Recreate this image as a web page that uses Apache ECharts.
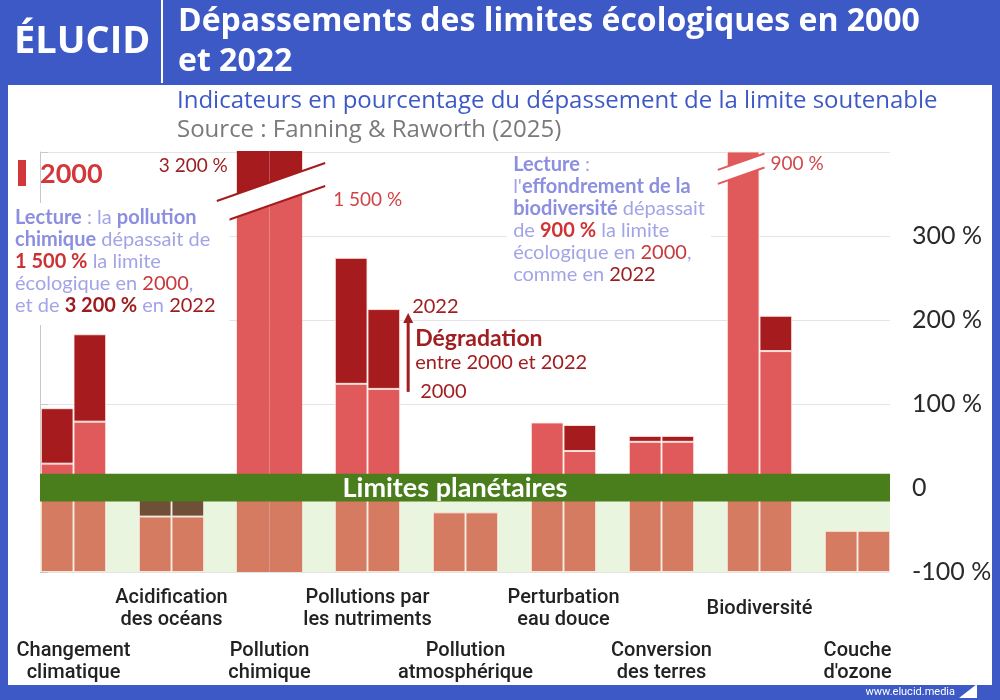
<!DOCTYPE html>
<html>
<head>
<meta charset="utf-8">
<title>Dépassements des limites écologiques en 2000 et 2022</title>
<script src="https://cdn.jsdelivr.net/npm/echarts@6/dist/echarts.min.js"></script>
<style>
  html, body { margin: 0; padding: 0; background: #fff; }
  #chart { width: 1000px; height: 700px; }
</style>
</head>
<body>
<div id="chart"></div>
<script>
// domaines (9) : deux indicateurs par domaine, valeurs en % de dépassement de la limite
var categories = ['Changement\nclimatique', 'Acidification\ndes océans', 'Pollution\nchimique',
  'Pollutions par\nles nutriments', 'Pollution\natmosphérique', 'Perturbation\neau douce',
  'Conversion\ndes terres', 'Biodiversité', "Couche\nd'ozone"];
var indA2000 = [29, -34, 1500, 124, -29, 78, 55, 900, -51];
var indA2022 = [95, -12, 3200, 274, -29, 78, 62, 900, -51];
// pollution chimique : un seul indicateur, répété pour occuper toute la largeur
var indB2000 = [79, -34, 1500, 118, -29, 44, 55, 163, -51];
var indB2022 = [183, -12, 3200, 213, -29, 75, 62, 205, -51];
var singleBar = ['Pollution\nchimique'];
var yTicks = [-100, 0, 100, 200, 300];
var boundaryBand = [-16, 17];   // bande "Limites planétaires"

var LIGHT = '#e05a5b', DARK = '#a51b1e', BASE = '#d47b62', GAIN = '#6f4f37';
var BLUE = '#3d59c6';
var OFF = 100;          // les barres partent de -100 % : on empile depuis ce plancher
var Y_MAX = 400, BREAK_AT = 350, SLOPE = 0.35;

function fmt(v) {
  return String(v).replace(/\B(?=(\d{3})+(?!\d))/g, ' ') + ' %';
}

// découpe d'une barre : sous la limite / hausse sous la limite / 2000 / hausse jusqu'en 2022
function segments(a, b) {
  var top = Y_MAX + 30;
  var lightTop = a > Y_MAX ? (b > a ? BREAK_AT : top) : a;
  var darkTop = b > Y_MAX ? top : b;
  return {
    base: Math.min(a, 0) + OFF,
    gain: a < 0 && b > a ? Math.min(b, 0) - a : null,
    light: a > 0 ? lightTop : null,
    dark: b > a && b > 0 ? darkTop - Math.max(lightTop, 0) : null
  };
}

function barSeries(name, y2000, y2022) {
  var parts = y2000.map(function (a, i) { return segments(a, y2022[i]); });
  var kinds = [['base', BASE], ['gain', GAIN], ['light', LIGHT], ['dark', DARK]];
  return kinds.map(function (k) {
    return {
      name: name + '-' + k[0],
      type: 'bar',
      xAxisIndex: 1,
      yAxisIndex: 1,
      stack: name,
      barWidth: '33.33%',
      barGap: 0,
      z: 2,
      itemStyle: { color: k[1], borderColor: 'rgba(255,236,228,0.85)', borderWidth: 1 },
      data: parts.map(function (p, i) {
        var v = p[k[0]];
        if (v === null) return null;
        if (singleBar.indexOf(categories[i]) >= 0) return { value: v, itemStyle: { borderColor: k[1], borderWidth: 2 } };
        return v;
      })
    };
  });
}

// coupures d'axe sur les barres hors échelle
var breakMarks = [
  { cat: 2, level: BREAK_AT, bars: [-1, 1], gap: 11.5, ext: [20, 23], color: DARK },
  { cat: 7, level: 381, bars: [-1, 0], gap: 7, ext: [9, 5], color: LIGHT }
];

var textFont = 'Lato';
var headFont = 'Open Sans';

var chart = echarts.init(document.getElementById('chart'));

var option = {
  backgroundColor: '#fff',
  animation: false,
  title: [
    {
      text: 'Dépassements des limites écologiques en 2000\net 2022',
      left: 178, top: 2, padding: 0,
      textStyle: { color: '#fff', fontSize: 32, fontWeight: 'bold', fontFamily: headFont, lineHeight: 40 }
    },
    {
      text: 'Indicateurs en pourcentage du dépassement de la limite soutenable',
      subtext: 'Source : Fanning & Raworth (2025)',
      left: 177, top: 87, padding: 0, itemGap: 1,
      textStyle: { color: BLUE, fontSize: 24, fontWeight: 'normal', fontFamily: headFont, lineHeight: 28 },
      subtextStyle: { color: '#7a7a7a', fontSize: 24, fontFamily: headFont, lineHeight: 28 }
    }
  ],
  grid: [
    { left: 40, right: 110, top: 152, bottom: 128 },
    { left: 24.5, right: 93.5, top: 152, bottom: 128 }
  ],
  xAxis: [
    { type: 'value', gridIndex: 0, min: 0, max: 1, show: false },
    {
      type: 'category', gridIndex: 1, data: categories,
      axisLine: { show: false }, axisTick: { show: false },
      axisLabel: {
        interval: 0, margin: 15,
        formatter: function (v, i) {
          var lines = v.split('\n');
          var txt = lines.length > 1
            ? lines.map(function (s) { return '{t|' + s + '}'; }).join('\n')
            : '{one|' + v + '}';
          return i % 2 === 0 ? '{sp| }\n' + txt : txt;
        },
        rich: {
          t: { fontSize: 20, lineHeight: 22, fontFamily: 'Roboto', fontWeight: 500, color: '#222' },
          one: { fontSize: 20, lineHeight: 44, fontFamily: 'Roboto', fontWeight: 500, color: '#222' },
          sp: { fontSize: 8, lineHeight: 53 }
        }
      }
    }
  ],
  yAxis: [
    {
      type: 'value', gridIndex: 0, position: 'right',
      min: 0, max: Y_MAX + OFF, interval: 100,
      axisLine: { show: true, lineStyle: { color: '#c8c8c8' } },
      axisTick: { show: true, length: 8, lineStyle: { color: '#c8c8c8' } },
      splitLine: { lineStyle: { color: '#e4e4e4' } },
      axisLabel: {
        margin: 22, fontSize: 25, fontFamily: textFont, color: '#2a2a2a',
        formatter: function (v) {
          var p = v - OFF;
          if (yTicks.indexOf(p) < 0) return '';
          return p === 0 ? '0' : p + ' %';
        }
      }
    },
    { type: 'value', gridIndex: 1, min: 0, max: Y_MAX + OFF, show: false }
  ],
  series: [
    {
      // zone sûre sous la limite
      type: 'custom', xAxisIndex: 0, yAxisIndex: 0, z: 1, silent: true,
      data: [[0, 0]],
      renderItem: function (params, api) {
        var cs = params.coordSys;
        var y1 = api.coord([0, OFF])[1], y2 = api.coord([0, 0])[1];
        return { type: 'rect', shape: { x: cs.x, y: y1, width: cs.width, height: y2 - y1 }, style: { fill: '#e9f5de' } };
      }
    }
  ]
    .concat(barSeries('A', indA2000, indA2022))
    .concat(barSeries('B', indB2000, indB2022))
    .concat([
      {
        // bande des limites planétaires
        type: 'custom', xAxisIndex: 0, yAxisIndex: 0, z: 6, silent: true,
        data: [[0, 0]],
        renderItem: function (params, api) {
          var cs = params.coordSys;
          var y1 = api.coord([0, boundaryBand[1] + OFF])[1], y2 = api.coord([0, boundaryBand[0] + OFF])[1];
          return {
            type: 'group',
            children: [
              { type: 'rect', shape: { x: cs.x, y: y1, width: cs.width, height: y2 - y1 }, style: { fill: '#4a7e1d' } },
              {
                type: 'text', x: cs.x + cs.width / 2 - 10, y: (y1 + y2) / 2 + 1,
                style: { text: 'Limites planétaires', fill: '#fff', fontSize: 27, fontWeight: 'bold', fontFamily: textFont, align: 'center', verticalAlign: 'middle' }
              }
            ]
          };
        }
      },
      {
        // coupures + valeurs hors échelle
        type: 'custom', xAxisIndex: 1, yAxisIndex: 1, z: 7, silent: true,
        data: breakMarks.map(function (m) { return [m.cat, m.level + OFF]; }),
        renderItem: function (params, api) {
          var m = breakMarks[params.dataIndex];
          var c = api.coord([m.cat, m.level + OFF]);
          var bw = api.size([1, 0])[0] / 3;
          var xl = c[0] + m.bars[0] * bw - m.ext[0];
          var xr = c[0] + m.bars[1] * bw + m.ext[1];
          var xm = c[0] + (m.bars[0] + m.bars[1]) / 2 * bw;
          var yAt = function (x) { return c[1] - SLOPE * (x - xm); };
          var kids = [
            { type: 'polygon', shape: { points: [[xl, yAt(xl) - m.gap], [xr, yAt(xr) - m.gap], [xr, yAt(xr) + m.gap], [xl, yAt(xl) + m.gap]] }, style: { fill: '#fff' } },
            { type: 'line', shape: { x1: xl, y1: yAt(xl) - m.gap, x2: xr, y2: yAt(xr) - m.gap }, style: { stroke: m.color, lineWidth: 2 } },
            { type: 'line', shape: { x1: xl, y1: yAt(xl) + m.gap, x2: xr, y2: yAt(xr) + m.gap }, style: { stroke: m.color, lineWidth: 2 } }
          ];
          var a = indA2000[m.cat], b = indA2022[m.cat];
          var topY = api.coord([m.cat, Y_MAX + OFF])[1];
          if (b > a) {
            kids.push({ type: 'text', x: c[0] + m.bars[0] * bw - 9, y: topY + 14,
              style: { text: fmt(b), fill: '#9b2024', fontSize: 19, fontFamily: textFont, align: 'right', verticalAlign: 'middle' } });
            kids.push({ type: 'text', x: xr + 8, y: c[1] + 6,
              style: { text: fmt(a), fill: '#cf4446', fontSize: 19, fontFamily: textFont, align: 'left', verticalAlign: 'middle' } });
          } else {
            kids.push({ type: 'text', x: xr + 6, y: c[1] - 4,
              style: { text: fmt(a), fill: '#d04a4c', fontSize: 19, fontFamily: textFont, align: 'left', verticalAlign: 'middle' } });
          }
          return { type: 'group', children: kids };
        }
      },
      {
        // flèche "Dégradation" sur le 2e indicateur des nutriments
        type: 'custom', xAxisIndex: 1, yAxisIndex: 1, z: 7, silent: true,
        data: [[3, indB2000[3] + OFF, indB2022[3] + OFF]],
        renderItem: function (params, api) {
          var cat = api.value(0);
          var p0 = api.coord([cat, api.value(1)]);
          var p1 = api.coord([cat, api.value(2)]);
          var bw = api.size([1, 0])[0] / 3;
          var x = p0[0] + bw + 8;
          var yb = p0[1] + 3, yt = p1[1] + 4;
          var st = function (t, size, weight) {
            return { text: t, fill: '#a01d20', fontSize: size, fontWeight: weight || 'normal', fontFamily: textFont, align: 'left', verticalAlign: 'middle' };
          };
          return {
            type: 'group',
            children: [
              { type: 'line', shape: { x1: x, y1: yb, x2: x, y2: yt + 8 }, style: { stroke: '#a01d20', lineWidth: 3 } },
              { type: 'polygon', shape: { points: [[x - 5, yt + 10], [x + 5, yt + 10], [x, yt]] }, style: { fill: '#a01d20' } },
              { type: 'text', x: x + 4, y: yt - 7, style: st('2022', 20) },
              { type: 'text', x: x + 7, y: yt + 25, style: st('Dégradation', 23, 'bold') },
              { type: 'text', x: x + 7, y: yt + 49, style: st('entre 2000 et 2022', 20) },
              { type: 'text', x: x + 12, y: yb, style: st('2000', 20) }
            ]
          };
        }
      }
    ]),
  graphic: [
    // cadre bleu
    { type: 'rect', id: 'hdr', shape: { x: 0, y: 0, width: 1000, height: 85 }, style: { fill: BLUE }, z: 0 },
    { type: 'rect', id: 'bl', shape: { x: 0, y: 85, width: 8, height: 615 }, style: { fill: BLUE }, z: 0 },
    { type: 'rect', id: 'br', shape: { x: 992, y: 85, width: 8, height: 615 }, style: { fill: BLUE }, z: 0 },
    { type: 'rect', id: 'bb', shape: { x: 0, y: 685, width: 1000, height: 15 }, style: { fill: BLUE }, z: 0 },
    { type: 'line', id: 'sep', shape: { x1: 162, y1: 0, x2: 162, y2: 83 }, style: { stroke: '#fff', lineWidth: 2 }, z: 1 },
    { type: 'text', id: 'logo', x: 14, y: 42, z: 1,
      style: { text: 'ÉLUCID', fill: '#fff', fontSize: 38, fontWeight: 'bold', fontFamily: headFont, verticalAlign: 'middle' } },
    { type: 'text', id: 'site', x: 955, y: 692, z: 1,
      style: { text: 'www.elucid.media', fill: '#fff', fontSize: 11, fontFamily: 'Roboto', align: 'right', verticalAlign: 'middle' } },
    { type: 'polygon', id: 'siteIco', shape: { points: [[959, 698], [977, 684], [977, 698]] }, style: { fill: '#fff' }, z: 1 },
    // légende
    { type: 'rect', id: 'legRect', shape: { x: 18, y: 160, width: 8, height: 26 }, style: { fill: '#d2383b' }, z: 10 },
    { type: 'text', id: 'legTxt', x: 40, y: 174, z: 10,
      style: { text: '2000', fill: '#d2383b', fontSize: 27, fontWeight: 'bold', fontFamily: textFont, verticalAlign: 'middle' } },
    // notes de lecture
    { type: 'text', id: 'noteL', left: 10, top: 203, z: 100,
      style: {
        text: [
          '{lb|Lecture} : la {lb|pollution}',
          '{lb|chimique} dépassait de',
          '{rb|1 500 %} la limite',
          'écologique en {r|2000},',
          'et de {db|3 200 %} en {d|2022}'
        ].join('\n'),
        fill: '#a3a4e6', fontSize: 20, fontFamily: textFont, lineHeight: 22,
        backgroundColor: '#fff', padding: [4, 14, 8, 5],
        rich: {
          lb: { fill: '#8c8ee0', fontWeight: 'bold', fontSize: 20, fontFamily: textFont, lineHeight: 22 },
          rb: { fill: '#cc3134', fontWeight: 'bold', fontSize: 20, fontFamily: textFont, lineHeight: 22 },
          r: { fill: '#c8393b', fontSize: 20, fontFamily: textFont, lineHeight: 22 },
          db: { fill: '#9b1b1e', fontWeight: 'bold', fontSize: 20, fontFamily: textFont, lineHeight: 22 },
          d: { fill: '#9b1b1e', fontSize: 20, fontFamily: textFont, lineHeight: 22 }
        }
      }
    },
    { type: 'text', id: 'noteR', right: 289, top: 154, z: 100,
      style: {
        text: [
          '{lb|Lecture} :',
          "l'{lb|effondrement de la}",
          '{lb|biodiversité} dépassait',
          'de {rb|900 %} la limite',
          'écologique en {r|2000},',
          'comme en {d|2022}'
        ].join('\n'),
        align: 'right',
        fill: '#a3a4e6', fontSize: 20, fontFamily: textFont, lineHeight: 22,
        backgroundColor: '#fff', padding: [0, 6, 6, 6],
        rich: {
          lb: { fill: '#8c8ee0', fontWeight: 'bold', fontSize: 20, fontFamily: textFont, lineHeight: 22 },
          rb: { fill: '#d03336', fontWeight: 'bold', fontSize: 20, fontFamily: textFont, lineHeight: 22 },
          r: { fill: '#c8393b', fontSize: 20, fontFamily: textFont, lineHeight: 22 },
          d: { fill: '#9b1b1e', fontSize: 20, fontFamily: textFont, lineHeight: 22 }
        }
      }
    }
  ]
};

chart.setOption(option);
</script>
</body>
</html>
